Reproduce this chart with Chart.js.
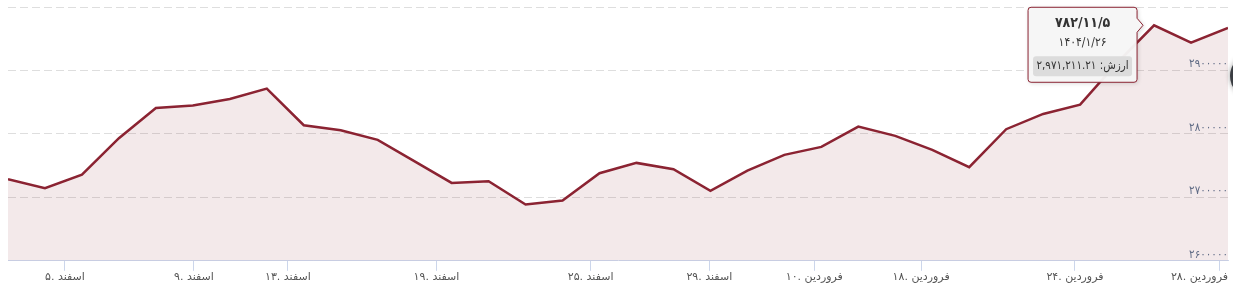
<!DOCTYPE html>
<html lang="fa">
<head>
<meta charset="utf-8">
<script src="https://cdn.jsdelivr.net/npm/chart.js@4/dist/chart.umd.min.js"></script>
<style>
  html, body { margin: 0; padding: 0; background: #fff; }
  #wrap { width: 1233px; height: 302px; }
</style>
</head>
<body>
<div id="wrap"><canvas id="priceChart" width="1233" height="302"></canvas></div>
<script>
// one value per trading day
const prices = [
  2728700, 2714500, 2735900, 2793200, 2840900, 2844600, 2855100, 2871300,
  2813700, 2805800, 2790600, 2756700, 2722800, 2725500, 2688700, 2695000,
  2738100, 2754300, 2744400, 2710200, 2742200, 2766900, 2779500, 2811500,
  2796900, 2774800, 2747600, 2807400, 2831500, 2846100, 2911800, 2971211.21,
  2943800, 2966900
];

// date ticks fall between trading days (ordinal axis)
const tickPositions = [1.54, 5.03, 7.57, 11.59, 15.76, 18.97, 21.81, 24.7, 28.86, 32.78];
const tickLabels = [
  '۵. اسفند', '۹. اسفند', '۱۳. اسفند', '۱۹. اسفند', '۲۵. اسفند', '۲۹. اسفند',
  '۱۰. فروردین', '۱۸. فروردین', '۲۴. فروردین', '۲۸. فروردین'
];

const yMin = 2600000;
const yMax = 3000000;
const yStep = 100000;

const hoverIndex = 31;
const hoverTitle = '۷۸۲/۱۱/۵';
const hoverDate = '۱۴۰۴/۱/۲۶';

const lineColor = 'rgb(139, 35, 50)';
const fillColor = 'rgba(139, 35, 50, 0.1)';
const axisColor = '#ccd6eb';
const fontFamily = '"DejaVu Sans", Tahoma, sans-serif';
const narrowFont = '"DejaVu Sans Condensed", "DejaVu Sans", sans-serif';

const toFa = (s) => String(s).replace(/\d/g, d => '۰۱۲۳۴۵۶۷۸۹'[d]);

// the last date label is pushed in so it ends at the plot edge, like the original
const lastLabelAt = prices.length - 1;

const hoverTooltip = {
  id: 'hoverTooltip',
  afterDraw(chart) {
    const pt = chart.getDatasetMeta(0).data[hoverIndex];
    if (!pt) return;
    const ctx = chart.ctx;
    const w = 109, h = 75;
    const right = pt.x - 17;
    const left = right - w;
    const top = pt.y - 18;
    const tipX = pt.x - 11;
    const r = 3;

    ctx.save();
    ctx.shadowColor = 'rgba(0,0,0,0.18)';
    ctx.shadowBlur = 4;
    ctx.shadowOffsetX = 1;
    ctx.shadowOffsetY = 1;
    ctx.beginPath();
    ctx.moveTo(left + r, top);
    ctx.lineTo(right - r, top);
    ctx.quadraticCurveTo(right, top, right, top + r);
    ctx.lineTo(right, pt.y - 7);
    ctx.lineTo(tipX, pt.y);
    ctx.lineTo(right, pt.y + 7);
    ctx.lineTo(right, top + h - r);
    ctx.quadraticCurveTo(right, top + h, right - r, top + h);
    ctx.lineTo(left + r, top + h);
    ctx.quadraticCurveTo(left, top + h, left, top + h - r);
    ctx.lineTo(left, top + r);
    ctx.quadraticCurveTo(left, top, left + r, top);
    ctx.closePath();
    ctx.fillStyle = 'rgba(247,247,247,0.96)';
    ctx.fill();
    ctx.shadowColor = 'transparent';
    ctx.lineWidth = 1;
    ctx.strokeStyle = lineColor;
    ctx.stroke();

    const cx = left + w / 2;
    ctx.textAlign = 'center';
    ctx.textBaseline = 'middle';
    ctx.fillStyle = '#333';
    ctx.font = 'bold 14px ' + narrowFont;
    ctx.fillText(hoverTitle, cx, top + 16);
    ctx.font = '12px ' + narrowFont;
    ctx.fillText(hoverDate, cx, top + 36);

    ctx.fillStyle = '#dcdcdc';
    ctx.beginPath();
    ctx.roundRect(left + 5, top + 49, w - 10, 20, 3);
    ctx.fill();
    const val = prices[hoverIndex].toLocaleString('en-US', { minimumFractionDigits: 2 });
    ctx.fillStyle = '#333';
    ctx.direction = 'rtl';
    ctx.font = '11.5px ' + narrowFont;
    ctx.fillText('ارزش: ' + toFa(val), cx, top + 59);
    ctx.restore();

    // dark round control peeking in at the right edge
    ctx.save();
    ctx.shadowColor = 'rgba(0,0,0,0.4)';
    ctx.shadowBlur = 5;
    ctx.fillStyle = '#3a3d42';
    ctx.beginPath();
    ctx.arc(chart.width + 19, 76, 22, 0, Math.PI * 2);
    ctx.fill();
    ctx.restore();
  }
};

new Chart(document.getElementById('priceChart'), {
  type: 'line',
  data: {
    datasets: [{
      data: prices.map((v, i) => ({ x: i, y: v })),
      borderColor: lineColor,
      borderWidth: 2.5,
      backgroundColor: fillColor,
      fill: 'start',
      pointRadius: 0,
      tension: 0,
    }]
  },
  options: {
    responsive: false,
    animation: false,
    devicePixelRatio: 1,
    layout: { padding: { left: 8, right: 5, top: 7, bottom: 18 } },
    plugins: { legend: { display: false }, tooltip: { enabled: false } },
    scales: {
      x: {
        type: 'linear',
        min: 0,
        max: prices.length - 1,
        afterBuildTicks: (scale) => {
          scale.ticks = [{ value: 0 }]
            .concat(tickPositions.map(v => ({ value: v })))
            .concat([{ value: lastLabelAt }]);
        },
        afterFit: (scale) => { scale.paddingLeft = 0; scale.paddingRight = 0; },
        grid: {
          drawOnChartArea: false,
          drawTicks: true,
          tickLength: 10,
          tickColor: (c) => (c.index === 0 || c.index === tickPositions.length + 1) ? 'transparent' : axisColor,
        },
        border: { color: axisColor, width: 1 },
        ticks: {
          autoSkip: false,
          maxRotation: 0,
          align: 'inner',
          padding: 0,
          color: '#555',
          font: { family: fontFamily, size: 11 },
          callback: (v, i) => {
            if (i === 0 || i === tickPositions.length) return '';
            if (i === tickPositions.length + 1) return tickLabels[tickLabels.length - 1];
            return tickLabels[i - 1];
          },
        }
      },
      y: {
        position: 'right',
        min: yMin,
        max: yMax,
        afterFit: (scale) => { scale.paddingTop = 0; scale.paddingBottom = 0; },
        grid: { color: '#dedede', drawTicks: false, lineWidth: 1 },
        border: { display: false, dash: [8, 4] },
        ticks: {
          stepSize: yStep,
          mirror: true,
          padding: 0,
          labelOffset: -6,
          z: 1,
          color: '#5f6b85',
          font: { family: narrowFont, size: 11.5 },
          callback: (v) => v >= yMax ? '' : toFa(v),
        }
      }
    }
  },
  plugins: [hoverTooltip]
});
</script>
</body>
</html>
